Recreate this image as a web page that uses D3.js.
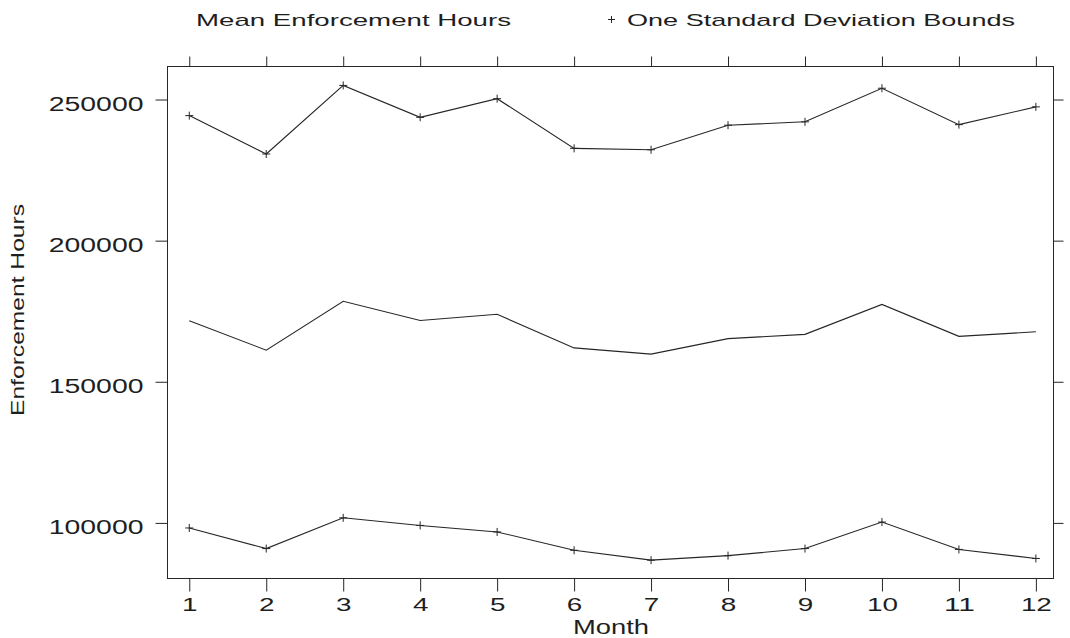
<!DOCTYPE html>
<html>
<head>
<meta charset="utf-8">
<script src="https://cdn.jsdelivr.net/npm/d3@7"></script>
<style>
  html, body { margin: 0; padding: 0; background: #fff; }
  svg { display: block; }
  text { font-family: "Liberation Sans", Arial, Helvetica, sans-serif; fill: #1e1e1e; }
</style>
</head>
<body>
<svg id="chart" width="1070" height="638"></svg>
<script>
// Monthly enforcement hours: mean and one-standard-deviation bounds
const months = [1, 2, 3, 4, 5, 6, 7, 8, 9, 10, 11, 12];
const meanHours  = [171600, 161200, 178500, 171700, 173900, 162000, 159800, 165300, 166800, 177400, 166100, 167700];
const upperBound = [244300, 230700, 255000, 243700, 250300, 232700, 232200, 240900, 242100, 254000, 241100, 247400];
const lowerBound = [98200, 90900, 101800, 99100, 96800, 90300, 86800, 88400, 90900, 100300, 90600, 87400];
const yTicks = [100000, 150000, 200000, 250000];
const xTicks = months;

const svg = d3.select("#chart");
const ink = "#262626";

const plot = { left: 167.5, right: 1053.5, top: 66.5, bottom: 578.5 };

const x = d3.scaleLinear().domain([0.717, 12.229]).range([plot.left, plot.right]);
const y = d3.scaleLinear().domain([80300, 261700]).range([plot.bottom, plot.top]);

// frame
svg.append("rect")
  .attr("x", plot.left).attr("y", plot.top)
  .attr("width", plot.right - plot.left).attr("height", plot.bottom - plot.top)
  .attr("fill", "none").attr("stroke", ink).attr("stroke-width", 1);

// axes
const gLeft = svg.append("g").attr("transform", `translate(${plot.left},0)`)
  .call(d3.axisLeft(y).tickValues(yTicks).tickFormat(d3.format("d")).tickSize(12).tickPadding(12).tickSizeOuter(0));
const gRight = svg.append("g").attr("transform", `translate(${plot.right},0)`)
  .call(d3.axisRight(y).tickValues(yTicks).tickFormat("").tickSize(10).tickSizeOuter(0));
const gBottom = svg.append("g").attr("transform", `translate(0,${plot.bottom})`)
  .call(d3.axisBottom(x).tickValues(xTicks).tickFormat(d3.format("d")).tickSize(13).tickPadding(6).tickSizeOuter(0));
const gTop = svg.append("g").attr("transform", `translate(0,${plot.top})`)
  .call(d3.axisTop(x).tickValues(xTicks).tickFormat("").tickSize(10).tickSizeOuter(0));

[gLeft, gRight, gBottom, gTop].forEach(g => {
  g.select(".domain").remove();
  g.selectAll(".tick line").attr("stroke", ink).attr("stroke-width", 1);
});

gLeft.selectAll(".tick text")
  .attr("font-size", 19.5)
  .attr("fill", ink)
  .attr("dy", 11)
  .attr("textLength", d => String(d).length * 15.8)
  .attr("lengthAdjust", "spacingAndGlyphs");

gBottom.selectAll(".tick text")
  .attr("font-size", 19)
  .attr("fill", ink)
  .attr("textLength", d => String(d).length * 15.5)
  .attr("lengthAdjust", "spacingAndGlyphs");

// axis titles
svg.append("text")
  .attr("x", 611).attr("y", 633.5)
  .attr("text-anchor", "middle")
  .attr("font-size", 20)
  .attr("textLength", 76).attr("lengthAdjust", "spacingAndGlyphs")
  .text("Month");

svg.append("text")
  .attr("transform", "translate(24,310) rotate(-90)")
  .attr("text-anchor", "middle")
  .attr("font-size", 18.5)
  .attr("textLength", 212).attr("lengthAdjust", "spacingAndGlyphs")
  .text("Enforcement Hours");

// legend
svg.append("text")
  .attr("x", 196).attr("y", 25.7)
  .attr("font-size", 17)
  .attr("textLength", 315).attr("lengthAdjust", "spacingAndGlyphs")
  .text("Mean Enforcement Hours");
svg.append("path")
  .attr("d", "M608,19.5H615M611.5,16V23")
  .attr("stroke", ink).attr("stroke-width", 1).attr("fill", "none");
svg.append("text")
  .attr("x", 627).attr("y", 25.7)
  .attr("font-size", 17)
  .attr("textLength", 388).attr("lengthAdjust", "spacingAndGlyphs")
  .text("One Standard Deviation Bounds");

// series lines
const line = d3.line().x((d, i) => x(months[i])).y(d => y(d));
const series = [
  { values: upperBound, markers: true },
  { values: meanHours, markers: false },
  { values: lowerBound, markers: true }
];

series.forEach(s => {
  svg.append("path")
    .datum(s.values)
    .attr("d", line)
    .attr("fill", "none")
    .attr("stroke", ink)
    .attr("stroke-width", 1.1)
    .attr("stroke-linejoin", "miter");
  if (s.markers) {
    svg.append("g").selectAll("path")
      .data(s.values)
      .join("path")
      .attr("d", (d, i) => {
        const cx = x(months[i]), cy = y(d);
        return `M${cx - 4},${cy}H${cx + 4}M${cx},${cy - 4}V${cy + 4}`;
      })
      .attr("stroke", ink)
      .attr("stroke-width", 1)
      .attr("fill", "none");
  }
});
</script>
</body>
</html>
